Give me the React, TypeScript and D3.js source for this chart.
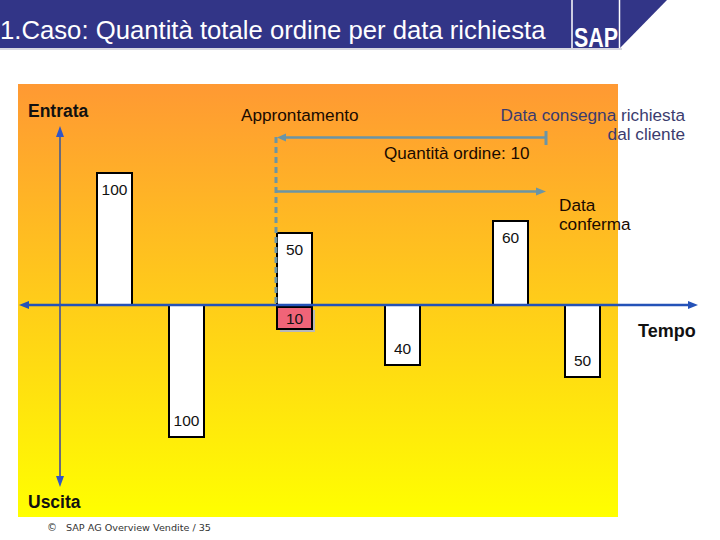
import React from 'react';
import * as d3 from 'd3';

// Data: time slots, signed quantities (+ receipt, - issue), labels
const slots = [0, 2, 5, 5, 8, 11, 13];
const quantities = [100, -100, 50, -10, -40, 60, -50];
const labels = ['100', '100', '50', '10', '40', '60', '50'];
const highlighted = [false, false, false, true, false, false, false];
const stagingSlot = 5; // Approntamento
const requestedSlot = 12.5; // Data consegna richiesta
const axisSlot = -1;

const W = 720;
const H = 540;
const FONT = '"Liberation Sans", Arial, sans-serif';

export default function App() {
  const x = d3.scaleLinear().domain([0, 1]).range([97, 133]);
  const h = d3.scaleLinear().domain([0, 100]).range([12, 132]);
  const y0 = 305;
  const bw = 35;

  const axisX = x(axisSlot) - 1;
  const stageX = x(stagingSlot) - 1;
  const reqX = x(requestedSlot) - 1;

  const bars = slots.map((s, i) => {
    const v = quantities[i];
    const hh = h(Math.abs(v));
    const hi = highlighted[i];
    const top = v > 0 ? y0 - hh : y0 + (hi ? 2 : 0);
    const height = hh;
    const bx = x(s);
    let ly;
    if (hi) ly = top + (height - 2) / 2 + 5.5;
    else if (v > 0) ly = top + 22;
    else ly = top + height - 11;
    return { bx, top, height, label: labels[i], hi, ly };
  });

  const arrowColor = '#6b95a6';

  return (
    <svg width={W} height={H} style={{ position: 'absolute', left: 0, top: 0, background: '#fff' }}>
      <defs>
        <linearGradient id="bg" x1="0" y1="0" x2="0" y2="1">
          <stop offset="0" stopColor="#ff9933" />
          <stop offset="1" stopColor="#ffff00" />
        </linearGradient>
      </defs>
      {/* banner */}
      <rect x={0} y={48} width={622} height={2} fill="#d8d8e0" />
      <rect x={0} y={0} width={620} height={48} fill="#323587" />
      <path d="M620,0 L667,0 L620,48 Z" fill="#323587" />
      <line x1={572} y1={0} x2={572} y2={48} stroke="#fff" strokeWidth={1.5} />
      <line x1={619.5} y1={0} x2={619.5} y2={48} stroke="#fff" strokeWidth={1.5} />
      <text x={0} y={39} fill="#fff" fontFamily={FONT} fontSize={25.7}>
        1.Caso: Quantità totale ordine per data richiesta
      </text>
      <text x={574} y={47} fill="#fff" fontFamily={FONT} fontSize={27} fontWeight="bold"
        textLength={44} lengthAdjust="spacingAndGlyphs">SAP</text>

      {/* panel */}
      <rect x={18} y={84} width={600} height={433} fill="url(#bg)" />

      {/* bars */}
      {bars.map((b, i) => (
        <g key={i}>
          {b.hi && (
            <rect x={b.bx + 3} y={b.top + 3} width={bw} height={b.height - 2} fill="#b8b8b8" />
          )}
          <rect x={b.bx} y={b.top} width={bw} height={b.hi ? b.height - 2 : b.height}
            fill={b.hi ? '#f06478' : '#ffffff'} stroke="#000" strokeWidth={2} />
          <text x={b.bx + bw / 2} y={b.ly} textAnchor="middle" fontFamily={FONT} fontSize={15.5}
            fill="#111">{b.label}</text>
        </g>
      ))}

      {/* dashed staging line */}
      <line x1={stageX} y1={137} x2={stageX} y2={y0} stroke={arrowColor} strokeWidth={3}
        strokeDasharray="6,4" />
      {/* quantity arrow (pointing left, bar at right) */}
      <line x1={stageX + 4} y1={137.5} x2={reqX} y2={137.5} stroke={arrowColor} strokeWidth={2.5} />
      <path d={`M${stageX + 1},137.5 L${stageX + 10},133.5 L${stageX + 10},141.5 Z`} fill={arrowColor} />
      <line x1={reqX} y1={131} x2={reqX} y2={145} stroke={arrowColor} strokeWidth={3} />
      {/* confirmation arrow (pointing right) */}
      <line x1={stageX} y1={191.5} x2={reqX - 6} y2={191.5} stroke={arrowColor} strokeWidth={2.5} />
      <path d={`M${reqX},191.5 L${reqX - 10},187.5 L${reqX - 10},195.5 Z`} fill={arrowColor} />

      {/* vertical axis */}
      <line x1={axisX} y1={133} x2={axisX} y2={480} stroke="#6a6a7c" strokeWidth={2} />
      <path d={`M${axisX},126 L${axisX - 4},137 L${axisX + 4},137 Z`} fill="#2f55c8" />
      <path d={`M${axisX},487 L${axisX - 4},476 L${axisX + 4},476 Z`} fill="#2f55c8" />

      {/* horizontal axis */}
      <line x1={26} y1={y0} x2={690} y2={y0} stroke="#2452b8" strokeWidth={2.5} />
      <path d={`M698,${y0} L688,${y0 - 4} L688,${y0 + 4} Z`} fill="#2452b8" />
      <path d={`M19,${y0} L29,${y0 - 4} L29,${y0 + 4} Z`} fill="#2452b8" />

      {/* labels */}
      <text x={28} y={117} fontFamily={FONT} fontSize={17.5} fontWeight="bold" fill="#111">Entrata</text>
      <text x={28} y={508} fontFamily={FONT} fontSize={17.5} fontWeight="bold" fill="#111">Uscita</text>
      <text x={638} y={337} fontFamily={FONT} fontSize={18} fontWeight="bold" fill="#111">Tempo</text>
      <text x={241} y={121} fontFamily={FONT} fontSize={17.2} fill="#1a0a00">Approntamento</text>
      <text x={685} y={121} textAnchor="end" fontFamily={FONT} fontSize={17.2} fill="#3b3b6e">Data consegna richiesta</text>
      <text x={685} y={140} textAnchor="end" fontFamily={FONT} fontSize={17.2} fill="#3b3b6e">dal cliente</text>
      <text x={384} y={159} fontFamily={FONT} fontSize={17.1} fill="#1a0a00">Quantità ordine: 10</text>
      <text x={559} y={211} fontFamily={FONT} fontSize={17.2} fill="#1a0a00">Data</text>
      <text x={559} y={230} fontFamily={FONT} fontSize={17.2} fill="#1a0a00">conferma</text>

      {/* footer */}
      <text x={47} y={531} fontFamily='"DejaVu Sans", Verdana, sans-serif' fontSize={10} fill="#333">©</text>
      <text x={66} y={531} fontFamily='"DejaVu Sans", Verdana, sans-serif' fontSize={9.5} fill="#333"
        textLength={145} lengthAdjust="spacingAndGlyphs">SAP AG Overview Vendite  / 35</text>
    </svg>
  );
}
